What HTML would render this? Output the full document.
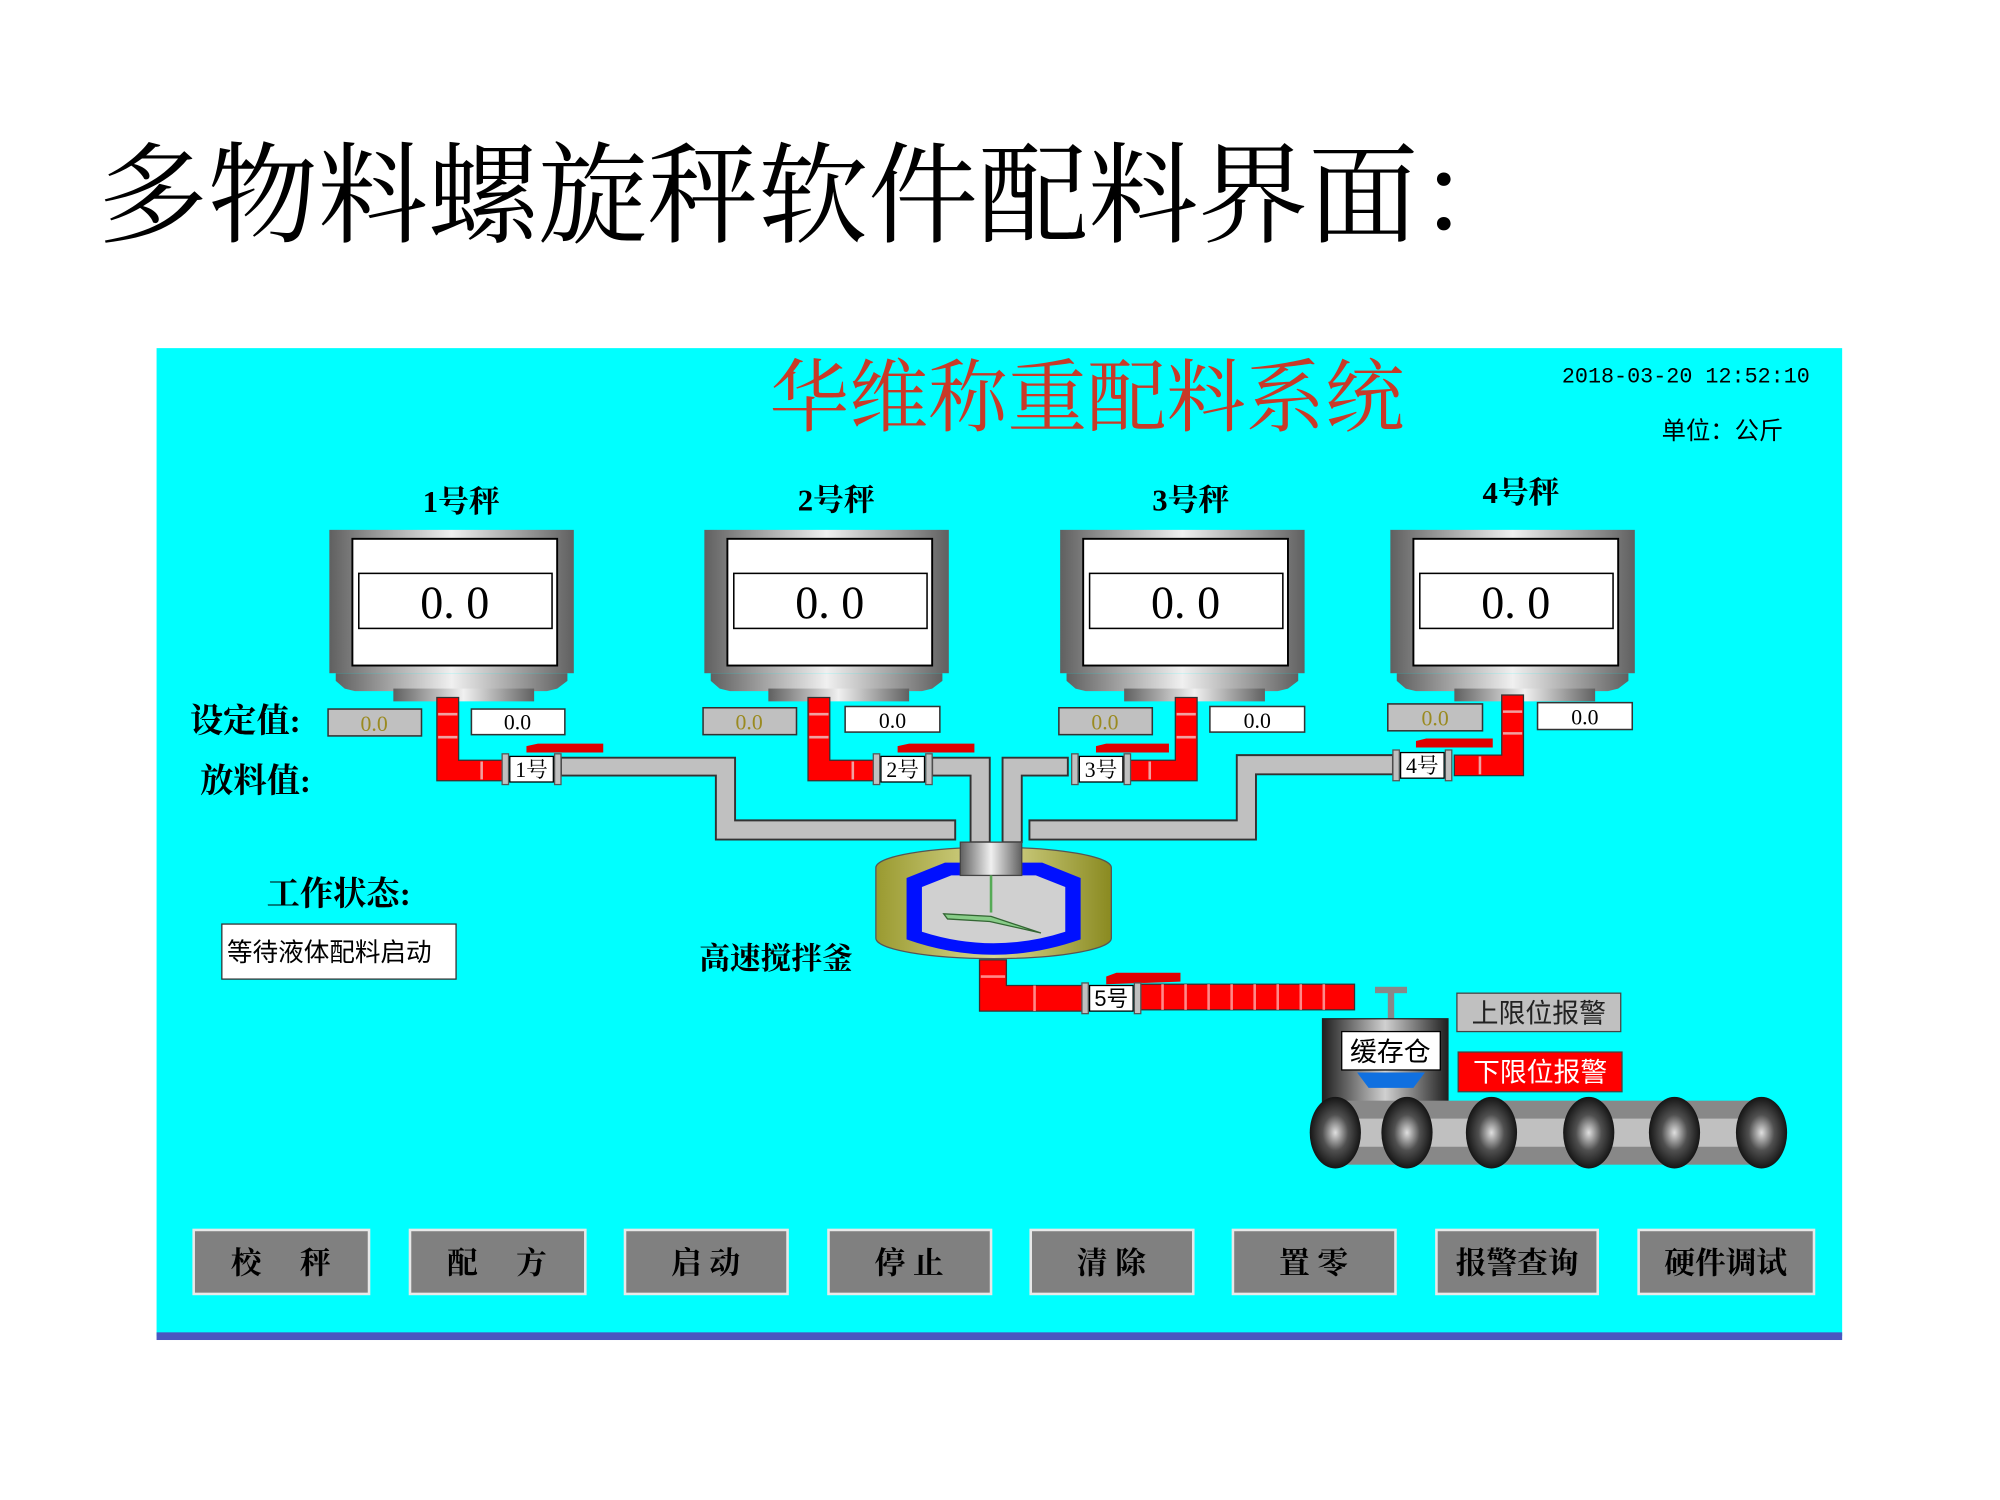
<!DOCTYPE html>
<html><head><meta charset="utf-8"><style>
html,body{margin:0;padding:0;background:#fff;width:2000px;height:1500px;overflow:hidden}
svg{display:block}
text{font-family:"Liberation Serif","Noto Serif CJK SC",serif}
.s{font-family:"Liberation Sans","Noto Sans CJK SC",sans-serif}
.m{font-family:"Liberation Mono",monospace}
</style></head><body>
<svg width="2000" height="1500" viewBox="2 2 1562 1172" xmlns="http://www.w3.org/2000/svg">
<defs>
<linearGradient id="hg" x1="0" x2="1"><stop offset="0" stop-color="#606060"/><stop offset="0.5" stop-color="#f0f0f0"/><stop offset="1" stop-color="#606060"/></linearGradient>
<linearGradient id="dg" x1="0" x2="1"><stop offset="0" stop-color="#202020"/><stop offset="0.5" stop-color="#d0d0d0"/><stop offset="1" stop-color="#202020"/></linearGradient>
<radialGradient id="rg"><stop offset="0" stop-color="#e0e0e0"/><stop offset="0.5" stop-color="#505050"/><stop offset="1" stop-color="#151515"/></radialGradient>
<linearGradient id="og" x1="0" x2="1"><stop offset="0" stop-color="#9a9a30"/><stop offset="0.5" stop-color="#d8d890"/><stop offset="1" stop-color="#8a8a20"/></linearGradient>
<g id="hop">
<rect x="0" y="0" width="191" height="112" fill="url(#hg)"/>
<rect x="18" y="7" width="160" height="99" fill="#fff" stroke="#000" stroke-width="1.5"/>
<rect x="23" y="34" width="151" height="43" fill="#fff" stroke="#000" stroke-width="1.2"/>
<text x="98" y="69" font-size="36" text-anchor="middle">0. 0</text>
<path d="M5 112 H186 V118 L178 124 L170 126 H20 L12 124 L5 118Z" fill="url(#hg)"/>
<rect x="50" y="124" width="110" height="10" fill="url(#hg)"/>
</g>
<g id="valve">
<rect x="-6" y="0" width="5" height="24" fill="#c0c0c0" stroke="#555"/>
<rect x="0" y="2" width="34" height="20" fill="#fff" stroke="#000"/>
<rect x="35" y="0" width="5" height="24" fill="#c0c0c0" stroke="#555"/>
</g>
</defs>
<text x="78" y="185" font-size="86">多物料螺旋秤软件配料界面：</text>
<rect x="124" y="274" width="1317" height="772" fill="#00ffff"/>
<rect x="124" y="1043" width="1317" height="6" fill="#4a58c0"/>
<text x="603" y="334" font-size="62" fill="#c83a28">华维称重配料系统</text>
<text x="1222" y="301" font-size="17" class="m">2018-03-20  12:52:10</text>
<text x="1300" y="345" font-size="19" class="s">单位：公斤</text>
<g font-size="24" font-weight="bold" text-anchor="middle">
<text x="362" y="402">1号秤</text><text x="655" y="401">2号秤</text><text x="932" y="401">3号秤</text><text x="1190" y="395">4号秤</text>
</g>
<use href="#hop" x="259" y="416"/><use href="#hop" x="552" y="416"/><use href="#hop" x="830" y="416"/><use href="#hop" x="1088" y="416"/>
<g fill="#c0c0c0" stroke="#333" stroke-width="1.5">
<path d="M440 594 H576 V643 H748 V658 H561 V608 H440Z"/>
<path d="M730 594 H775 V660 H760 V608 H730Z"/>
<path d="M836 594 H785 V660 H800 V608 H836Z"/>
<path d="M1090 592 H968 V643 H806 V658 H983 V607 H1090Z"/>
</g>
<g fill="#ff0000" stroke="#333" stroke-width="1">
<path d="M343 547 H360 V596 H398 V612 H343Z"/>
<path d="M633 547 H650 V596 H688 V612 H633Z"/>
<path d="M920 547 H937 V612 H880 V596 H920Z"/>
<path d="M1175 545 H1192 V608 H1138 V592 H1175Z"/>
</g>
<g stroke="#f0a0a0" stroke-width="2">
<line x1="344" y1="560" x2="359" y2="560"/><line x1="344" y1="578" x2="359" y2="578"/><line x1="378" y1="597" x2="378" y2="611"/>
<line x1="634" y1="560" x2="649" y2="560"/><line x1="634" y1="578" x2="649" y2="578"/><line x1="668" y1="597" x2="668" y2="611"/>
<line x1="921" y1="560" x2="936" y2="560"/><line x1="921" y1="578" x2="936" y2="578"/><line x1="900" y1="597" x2="900" y2="611"/>
<line x1="1176" y1="558" x2="1191" y2="558"/><line x1="1176" y1="575" x2="1191" y2="575"/><line x1="1158" y1="593" x2="1158" y2="607"/>
</g>
<g fill="#e00000"><path d="M413 590 V585 L422 583 H473 V590Z"/><path d="M703 590 V585 L712 583 H763 V590Z"/><path d="M858 590 V585 L866 583 H915 V590Z"/><path d="M1108 586 V581 L1116 579 H1168 V586Z"/><path d="M866 771 V765 L874 762 H924 V769Z"/></g>
<use href="#valve" x="400" y="591"/><use href="#valve" x="690" y="591"/><use href="#valve" x="845" y="591"/><use href="#valve" x="1096" y="588"/>
<g font-size="17" class="s" text-anchor="middle">
<text x="417" y="609">1号</text><text x="707" y="609">2号</text><text x="862" y="609">3号</text><text x="1113" y="606">4号</text>
</g>
<g stroke="#333" stroke-width="1.2">
<rect x="258" y="556" width="73" height="21" fill="#c0c0c0"/><rect x="370" y="556" width="73" height="20" fill="#fff"/>
<rect x="551" y="555" width="73" height="21" fill="#c0c0c0"/><rect x="662" y="554" width="74" height="20" fill="#fff"/>
<rect x="829" y="555" width="73" height="21" fill="#c0c0c0"/><rect x="947" y="554" width="74" height="20" fill="#fff"/>
<rect x="1086" y="552" width="74" height="21" fill="#c0c0c0"/><rect x="1203" y="551" width="74" height="21" fill="#fff"/>
</g>
<g font-size="17" text-anchor="middle" class="m">
<text x="294" y="573" fill="#9a8a20">0.0</text><text x="406" y="572">0.0</text>
<text x="587" y="572" fill="#9a8a20">0.0</text><text x="699" y="571">0.0</text>
<text x="865" y="572" fill="#9a8a20">0.0</text><text x="984" y="571">0.0</text>
<text x="1123" y="569" fill="#9a8a20">0.0</text><text x="1240" y="568">0.0</text>
</g>
<g font-size="26" font-weight="bold">
<text x="150" y="574">设定值:</text><text x="158" y="621">放料值:</text><text x="210" y="709">工作状态:</text>
</g>
<rect x="175" y="724" width="183" height="43" fill="#fff" stroke="#333"/>
<text x="179" y="753" font-size="20" class="s">等待液体配料启动</text>
<path d="M686 680 A92 16 0 0 1 870 680 V735 A92 16 0 0 1 686 735Z" fill="url(#og)" stroke="#555"/>
<path d="M710 688 L740 676 L816 676 L846 688 V736 Q778 760 710 736Z" fill="#0010ff"/>
<path d="M722 695 L745 686 L811 686 L834 695 V730 Q778 748 722 730Z" fill="#d0d0d0"/>
<rect x="752" y="660" width="48" height="26" fill="url(#hg)" stroke="#444"/>
<line x1="776" y1="686" x2="776" y2="715" stroke="#5a5" stroke-width="2"/>
<path d="M739 716 L776 718 L815 731 L775 722 L742 720Z" fill="#8c8" stroke="#363"/>
<text x="548" y="759" font-size="24" font-weight="bold">高速搅拌釜</text>
<path d="M767 752 H788 V772 H850 V792 H767Z" fill="#ff0000" stroke="#333"/>
<rect x="893" y="771" width="167" height="20" fill="#ff0000" stroke="#333"/>
<g stroke="#f88" stroke-width="2"><line x1="910" y1="771" x2="910" y2="791"/><line x1="928" y1="771" x2="928" y2="791"/><line x1="946" y1="771" x2="946" y2="791"/><line x1="964" y1="771" x2="964" y2="791"/><line x1="982" y1="771" x2="982" y2="791"/><line x1="1000" y1="771" x2="1000" y2="791"/><line x1="1018" y1="771" x2="1018" y2="791"/><line x1="1036" y1="771" x2="1036" y2="791"/><line x1="810" y1="772" x2="810" y2="792"/><line x1="768" y1="765" x2="787" y2="765"/></g>
<use href="#valve" x="853" y="770"/>
<text x="870" y="788" font-size="17" text-anchor="middle" class="s">5号</text>
<rect x="1086" y="775" width="5" height="25" fill="#888"/><rect x="1076" y="773" width="25" height="5" fill="#888"/>
<rect x="1035" y="798" width="98" height="70" fill="url(#dg)" stroke="#222"/>
<rect x="1050" y="808" width="77" height="30" fill="#fff" stroke="#000"/>
<text x="1088" y="831" font-size="21" text-anchor="middle" class="s">缓存仓</text>
<path d="M1062 840 H1115 L1106 852 H1071Z" fill="#1070e0"/>
<rect x="1140" y="778" width="128" height="30" fill="#c0c0c0" stroke="#444"/>
<text x="1204" y="801" font-size="21" text-anchor="middle" class="s" fill="#222">上限位报警</text>
<rect x="1141" y="824" width="128" height="31" fill="#ff0000" stroke="#444"/>
<text x="1205" y="847" font-size="21" text-anchor="middle" class="s" fill="#fff">下限位报警</text>
<rect x="1040" y="862" width="345" height="50" fill="#888"/>
<rect x="1040" y="876" width="345" height="22" fill="#c0c0c0"/>
<g fill="url(#rg)"><ellipse cx="1045" cy="887" rx="20" ry="28"/><ellipse cx="1101" cy="887" rx="20" ry="28"/><ellipse cx="1167" cy="887" rx="20" ry="28"/><ellipse cx="1243" cy="887" rx="20" ry="28"/><ellipse cx="1310" cy="887" rx="20" ry="28"/><ellipse cx="1378" cy="887" rx="20" ry="28"/></g>
<g fill="#808080" stroke="#e8e8e8" stroke-width="2">
<rect x="153" y="963" width="137" height="50"/><rect x="322" y="963" width="137" height="50"/><rect x="490" y="963" width="127" height="50"/><rect x="649" y="963" width="127" height="50"/><rect x="807" y="963" width="127" height="50"/><rect x="965" y="963" width="127" height="50"/><rect x="1124" y="963" width="126" height="50"/><rect x="1282" y="963" width="137" height="50"/>
</g>
<g font-size="24" font-weight="bold" text-anchor="middle" fill="#000" class="s">
<text x="221" y="997">校　 秤</text><text x="390" y="997">配　 方</text><text x="553" y="997">启 动</text><text x="712" y="997">停 止</text><text x="870" y="997">清 除</text><text x="1028" y="997">置 零</text><text x="1187" y="997">报警查询</text><text x="1350" y="997">硬件调试</text>
</g>
</svg>
</body></html>
